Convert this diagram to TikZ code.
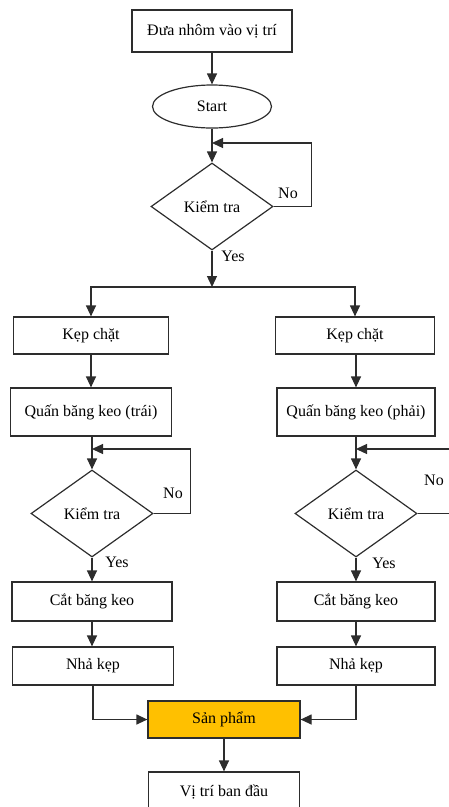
\documentclass[tikz,border=0pt]{standalone}
\usepackage{fontspec}
\setmainfont{Liberation Serif}
\usetikzlibrary{arrows.meta,calc,positioning,shapes.geometric}
\definecolor{FlowLine}{RGB}{45,45,45}
\definecolor{FlowGold}{RGB}{255,192,0}

\begin{document}
\begin{tikzpicture}[x=1pt,y=-1pt,>={Triangle[length=11pt,width=10pt]},line width=1.2pt]
        \tikzset{box/.style={draw=FlowLine,rectangle,minimum height=38pt,inner sep=2pt,align=center,font=\fontsize{16}{18}\selectfont},
          chk/.style={draw=FlowLine,diamond,minimum width=122pt,minimum height=87pt,inner sep=0pt,font=\fontsize{16}{18}\selectfont},
          lbl/.style={font=\fontsize{16}{18}\selectfont,inner sep=0pt}}
        \useasboundingbox (0,0) rectangle (449,807);
        \clip (0,0) rectangle (449,807);
        \node[box,minimum width=160pt,minimum height=42pt] (pos) at (212,31) {Đưa nhôm vào vị trí};
        \node[draw=FlowLine,ellipse,minimum width=119pt,minimum height=43pt,font=\fontsize{16}{18}\selectfont] (start) at (212,106.5) {Start};
        \node[chk] (chk) at (212,206.5) {Kiểm tra};
        \coordinate (back) at (212,143);
        \coordinate (split) at (212,287);
        % nhanh trai
        \node[box,minimum width=155pt,minimum height=37pt] (kepL) at (91,335.5) {Kẹp chặt};
        \node[box,minimum width=161pt,minimum height=48pt] (quanL) at (91,412) {Quấn băng keo (trái)};
        \node[chk] (chkL) at (92,513.5) {Kiểm tra};
        \coordinate (backL) at (92,449);
        \node[box,minimum width=160pt,minimum height=39pt] (catL) at (92,601.5) {Cắt băng keo};
        \node[box,minimum width=161pt] (nhaL) at (93,666) {Nhả kẹp};
        % nhanh phai
        \node[box,minimum width=159pt,minimum height=37pt] (kepR) at (355,335.5) {Kẹp chặt};
        \node[box,minimum width=158pt,minimum height=48pt] (quanR) at (356,412) {Quấn băng keo (phải)};
        \node[chk] (chkR) at (356,513.5) {Kiểm tra};
        \coordinate (backR) at (356,449);
        \node[box,minimum width=158pt,minimum height=39pt] (catR) at (356,601.5) {Cắt băng keo};
        \node[box,minimum width=158pt] (nhaR) at (356,666) {Nhả kẹp};
        \node[box,minimum width=152pt,minimum height=37pt,fill=FlowGold] (sp) at (224,719.5) {Sản phẩm};
        \node[box,minimum width=151pt,minimum height=40pt] (home) at (224,792) {Vị trí ban đầu};
        \node[lbl] (no) at (288,193) {No};
        \node[lbl] (yes) at (233,256) {Yes};
        \node[lbl] (noL) at (173,493) {No};
        \node[lbl] (yesL) at (117,562) {Yes};
        \node[lbl] (noR) at (434,480) {No};
        \node[lbl] (yesR) at (384,563) {Yes};
        \draw[->,FlowLine] (pos) -- (start);
        \draw[->,FlowLine] (start) -- (chk);
        \draw[->,FlowLine] (chk.east) -- ++(38,0) |- (back);
        \draw[->,FlowLine] (chk) -- (split);
        \draw[->,FlowLine] (split) -| (kepL);
        \draw[->,FlowLine] (split) -| (kepR);
        \draw[->,FlowLine] (kepL) -- (quanL);
        \draw[->,FlowLine] (quanL.south -| chkL) -- (chkL);
        \draw[->,FlowLine] (chkL.east) -- ++(37,0) |- (backL);
        \draw[->,FlowLine] (chkL) -- (catL);
        \draw[->,FlowLine] (catL) -- (catL |- nhaL.north);
        \draw[->,FlowLine] (kepR.south -| quanR) -- (quanR);
        \draw[->,FlowLine] (quanR) -- (chkR);
        \draw[->,FlowLine] (chkR.east) -- ++(50,0) |- (backR);
        \draw[->,FlowLine] (chkR) -- (catR);
        \draw[->,FlowLine] (catR) -- (nhaR);
        \draw[->,FlowLine] (nhaL) |- (sp);
        \draw[->,FlowLine] (nhaR) |- (sp);
        \draw[->,FlowLine] (sp) -- (home);
      \end{tikzpicture}
\end{document}
